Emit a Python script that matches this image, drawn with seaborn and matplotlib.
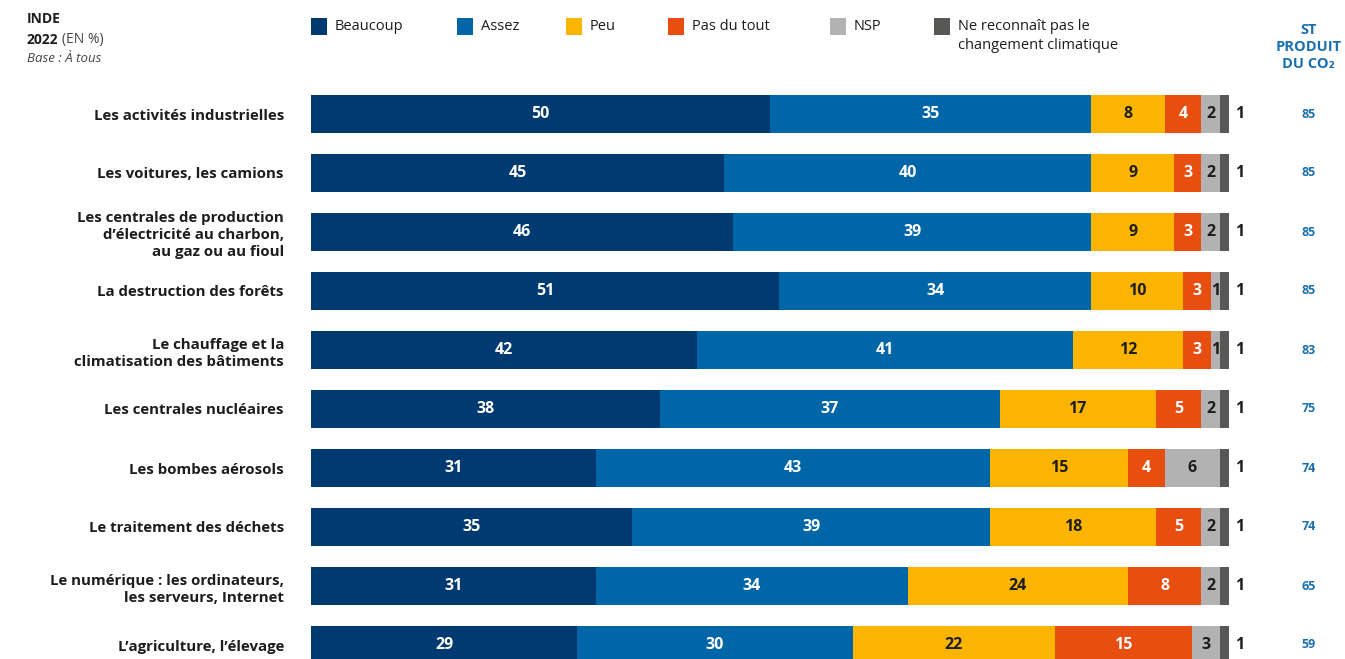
import matplotlib.pyplot as plt
from matplotlib.patches import Rectangle
import seaborn as sns
import pandas as pd
import numpy as np

# data
categories = [
    "Les activités industrielles",
    "Les voitures, les camions",
    "Les centrales de production\nd’électricité au charbon,\nau gaz ou au fioul",
    "La destruction des forêts",
    "Le chauffage et la\nclimatisation des bâtiments",
    "Les centrales nucléaires",
    "Les bombes aérosols",
    "Le traitement des déchets",
    "Le numérique : les ordinateurs,\nles serveurs, Internet",
    "L’agriculture, l’élevage",
]
series = ["Beaucoup", "Assez", "Peu", "Pas du tout", "NSP",
          "Ne reconnaît pas le\nchangement climatique"]
beaucoup = [50, 45, 46, 51, 42, 38, 31, 35, 31, 29]
assez = [35, 40, 39, 34, 41, 37, 43, 39, 34, 30]
peu = [8, 9, 9, 10, 12, 17, 15, 18, 24, 22]
pas_du_tout = [4, 3, 3, 3, 3, 5, 4, 5, 8, 15]
nsp = [2, 2, 2, 1, 1, 2, 6, 2, 2, 3]
ne_reconnait = [1, 1, 1, 1, 1, 1, 1, 1, 1, 1]
st_co2 = [85, 85, 85, 85, 83, 75, 74, 74, 65, 59]

colors = ["#003a70", "#0066a8", "#fbb500", "#e84e0f", "#b2b2b2", "#575756"]
txt_colors = ["white", "white", "#1d1d1b", "white", "#1d1d1b", None]
blue_txt = "#1a6fb0"
dark = "#1d1d1b"

sns.set_theme(style="white")
plt.rcParams['font.family'] = ['Open Sans', 'DejaVu Sans']

vals = np.array([beaucoup, assez, peu, pas_du_tout, nsp, ne_reconnait])
cum = vals.cumsum(axis=0)

df = pd.DataFrame({"cat": categories})
for i, s in enumerate(series):
    df[f"cum{i}"] = cum[i]

fig = plt.figure(figsize=(13.45, 6.59), dpi=100)
ax = fig.add_axes([311 / 1345, 1 - 84.5 / 659 - 590 / 659, 918 / 1345, 590 / 659])

# draw stacked bars, widest cumulative first
for i in range(len(series) - 1, -1, -1):
    sns.barplot(data=df, x=f"cum{i}", y="cat", order=categories, color=colors[i],
                saturation=1, width=38 / 59, orient="h", ax=ax, linewidth=0)

ax.set_xlim(0, 100)
ax.set_ylim(9.5, -0.5)
ax.set_xlabel("")
ax.set_ylabel("")
ax.set_xticks([])
sns.despine(ax=ax, left=True, bottom=True)
ax.tick_params(axis="y", length=0, pad=19.5)
ax.set_yticks(range(len(categories)))
ax.set_yticklabels(categories, fontsize=10.8, fontweight="bold", color=dark,
                   linespacing=1.3)

# value labels
for r in range(len(categories)):
    for i in range(len(series) - 1):
        v = vals[i, r]
        left = cum[i, r] - v
        ax.text(left + v / 2, r, str(v), ha="center", va="center",
                color=txt_colors[i], fontsize=11.5, fontweight="bold")
    ax.text(101.2, r, str(ne_reconnait[r]), ha="center", va="center",
            color=dark, fontsize=11.5, fontweight="bold", clip_on=False)
    ax.text(108.7, r, str(st_co2[r]), ha="center", va="center",
            color=blue_txt, fontsize=9, fontweight="bold", clip_on=False)

# header
fig.text(27 / 1345, 1 - 19 / 659, "INDE", ha="left", va="center",
         fontsize=10, fontweight="bold", color=dark)
fig.text(27 / 1345, 1 - 40 / 659, "2022", ha="left", va="center",
         fontsize=10, fontweight="bold", color=dark)
fig.text(62 / 1345, 1 - 40 / 659, "(EN %)", ha="left", va="center",
         fontsize=10, color="#444444")
fig.text(27 / 1345, 1 - 59 / 659, "Base : À tous", ha="left", va="center",
         fontsize=9.5, style="italic", color="#444444")

fig.text(1309 / 1345, 1 - 47 / 659, "ST\nPRODUIT\nDU CO₂", ha="center",
         va="center", fontsize=10.5, fontweight="bold", color=blue_txt,
         linespacing=1.25)

# legend
leg_x = [311, 457, 566, 668, 830, 934]
for i, s in enumerate(series):
    fig.add_artist(Rectangle((leg_x[i] / 1345, 1 - 35 / 659), 16 / 1345, 17 / 659,
                             transform=fig.transFigure, color=colors[i], lw=0))
    fig.text((leg_x[i] + 24) / 1345, 1 - 19 / 659, s, ha="left", va="top",
             fontsize=10.5, color=dark, linespacing=1.35)

fig.savefig("out.png", dpi=100)
